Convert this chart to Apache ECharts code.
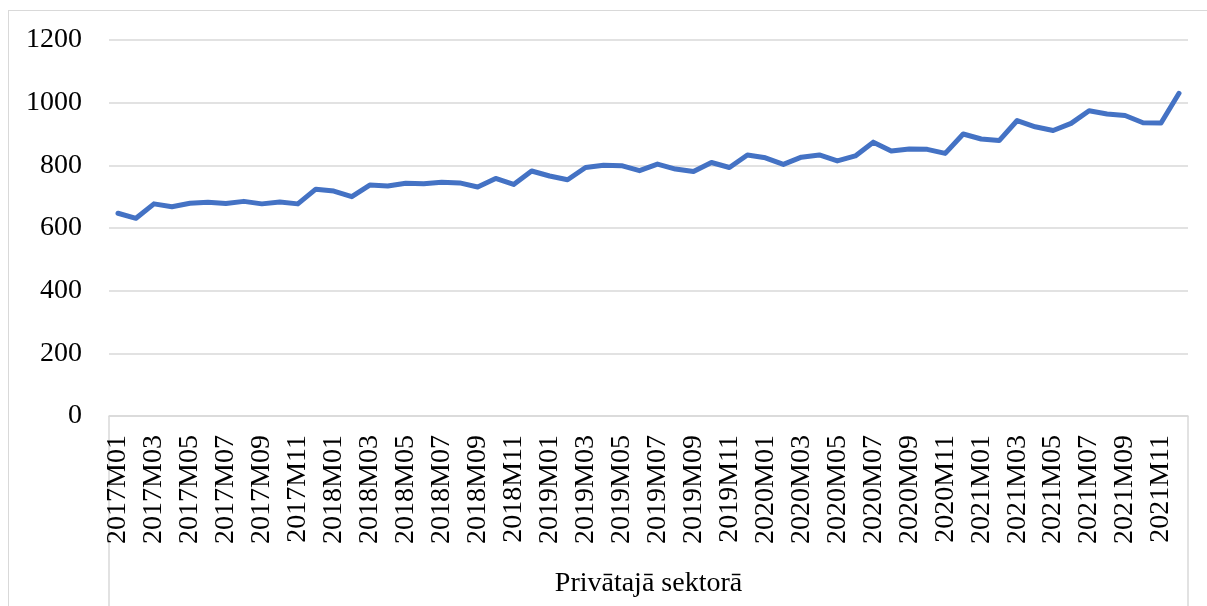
<!DOCTYPE html>
<html>
<head>
<meta charset="utf-8">
<script src="https://cdn.jsdelivr.net/npm/echarts@6/dist/echarts.min.js"></script>
<style>
  body { margin: 0; background: #fff; overflow: hidden; }
  #frame { position: absolute; left: 8px; top: 10px; width: 1220px; height: 620px; border: 1px solid #d9d9d9; }
  #chart { position: absolute; left: 0; top: 0; width: 1207px; height: 606px; }
</style>
</head>
<body>
<div id="frame"></div>
<div id="chart"></div>
<script>
// monthly values, 2017M01 .. 2021M12
var years = ['2017', '2018', '2019', '2020', '2021'];
var values2017 = [647, 631, 677, 668, 679, 682, 678, 685, 677, 683, 677, 724];
var values2018 = [718, 700, 737, 734, 743, 741, 746, 744, 731, 758, 739, 782];
var values2019 = [766, 754, 793, 800, 799, 783, 804, 788, 780, 809, 793, 833];
var values2020 = [824, 803, 826, 833, 814, 830, 874, 846, 852, 851, 838, 900];
var values2021 = [884, 879, 943, 923, 911, 934, 974, 964, 959, 936, 935, 1030];
var groupName = ['Privātajā sektorā'];

var months = [];
years.forEach(function (y) {
    for (var m = 1; m <= 12; m++) {
        months.push(y + 'M' + (m < 10 ? '0' + m : m));
    }
});
var values = [].concat(values2017, values2018, values2019, values2020, values2021);

var font = "'Liberation Serif', 'Times New Roman', serif";
var gridColor = '#d9d9d9';

var myChart = echarts.init(document.getElementById('chart'));
var option = {
    animation: false,
    grid: { left: 109, right: 19, top: 40, bottom: 190, containLabel: false },
    xAxis: [
        {
            type: 'category',
            data: months,
            boundaryGap: true,
            axisLine: { show: true, lineStyle: { color: gridColor, width: 1.5 } },
            axisTick: { show: false },
            axisLabel: {
                interval: 1,
                rotate: 90,
                margin: 19,
                color: '#000',
                fontFamily: font,
                fontSize: 28
            }
        },
        {
            type: 'category',
            data: groupName,
            position: 'bottom',
            boundaryGap: true,
            axisLine: { show: false },
            axisTick: { show: true, length: 200, lineStyle: { color: gridColor, width: 1.5 } },
            axisLabel: {
                margin: 154,
                color: '#000',
                fontFamily: font,
                fontSize: 28
            }
        }
    ],
    yAxis: {
        type: 'value',
        min: 0,
        max: 1200,
        interval: 200,
        axisLine: { show: false },
        axisTick: { show: false },
        axisLabel: {
            margin: 27,
            color: '#000',
            fontFamily: font,
            fontSize: 28,
            formatter: function (v) { return String(v); }
        },
        splitLine: { show: true, lineStyle: { color: gridColor, width: 1.5 } }
    },
    series: [
        {
            type: 'line',
            data: values,
            xAxisIndex: 0,
            showSymbol: false,
            symbol: 'none',
            lineStyle: { color: '#4472C4', width: 5, cap: 'round', join: 'round' },
            itemStyle: { color: '#4472C4' }
        }
    ]
};
myChart.setOption(option);
</script>
</body>
</html>
